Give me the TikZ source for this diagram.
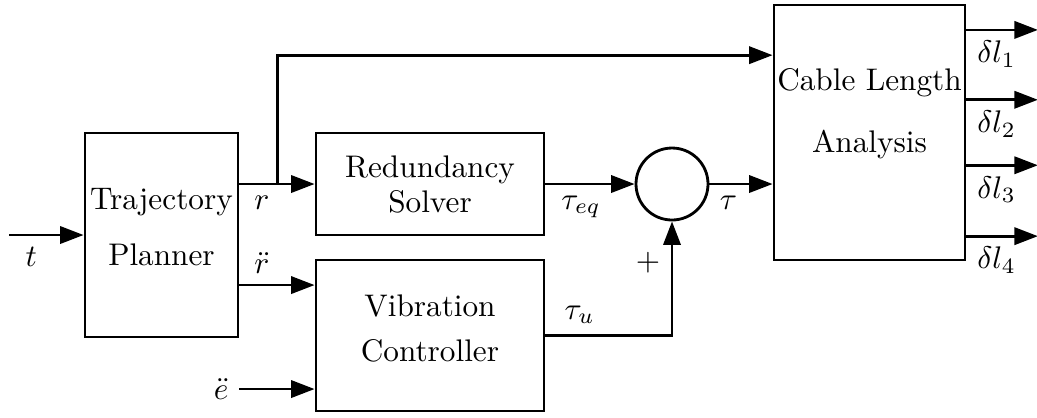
\documentclass[tikz,border=0pt]{standalone}
\usetikzlibrary{calc, arrows.meta}

\begin{document}
\begin{tikzpicture}[x=0.01125cm, y=-0.01125cm,
    block/.style={draw, line width=0.9pt, rectangle, align=center, inner sep=1pt},
    sumnode/.style={draw, line width=0.9pt, circle, inner sep=0pt},
    sig/.style={line width=0.9pt, -{Triangle[length=7.5pt,width=5.5pt]}},
    wire/.style={line width=0.9pt}]
    % One unit is one pixel of the sketch
    \def\px{0.01125cm}

  % Fix the page size
  \useasboundingbox (0,0) rectangle (1037,417);

  % Blocks
  \node[block, minimum width=153*\px, minimum height=204*\px, text depth=5pt] (traj) at (161.5,235) {Trajectory\\[6pt]Planner};
  \node[block, minimum width=228*\px, minimum height=102*\px] (red) at (430,184) {Redundancy\\[-0.8pt]Solver};
  \node[block, minimum width=228*\px, minimum height=151*\px, text depth=4.5pt] (vib) at (430,335.5) {Vibration\\[2.4pt]Controller};
  \node[sumnode, minimum size=72*\px] (sum) at (672,184) {};
  \node[block, minimum width=191*\px, minimum height=255*\px, text depth=14pt] (cable) at (869.5,132.5) {Cable Length\\[8pt]Analysis};

  % Inputs
  \coordinate (tin) at (9,235);
  \draw[sig] (tin) -- (traj.west) node[below, pos=0.3] {$t$};

  \coordinate (evib) at ($(vib.north west)!0.848!(vib.south west)$);
  \coordinate (ein) at (traj.east |- evib);
  \draw[sig] (ein) -- (evib);
  \node[left] (elabel) at (ein) {$\ddot{e}$};

  % Planner outputs
  \draw[sig] (traj.east |- red.west) -- (red.west) node[below, pos=0.3] {$r$};
  \coordinate (rvib) at ($(vib.north west)!0.172!(vib.south west)$);
  \draw[sig] (traj.east |- rvib) -- (rvib) node[above, pos=0.3] {$\ddot{r}$};

  % r also goes to the cable length block
  \coordinate (branch) at ($(traj.east |- red.west)+(38,0)$);
  \draw[sig] (branch) |- ($(cable.north west)!0.2!(cable.south west)$);

  % Summing junction
  \draw[sig] (red.east) -- (sum.west) node[below, pos=0.4] {$\tau_{eq}$};
  \draw[sig] (vib.east) -| (sum.south) node[above, pos=0.135] {$\tau_u$} node[left, pos=0.82] {$+$};
  \draw[sig] (sum.east) -- (cable.west |- sum) node[below, pos=0.3] {$\tau$};

  % Cable length outputs
  \foreach \i/\f in {1/0.102, 2/0.373, 3/0.627, 4/0.902} {
    \coordinate (o\i) at ($(cable.north east)!\f!(cable.south east)$);
    \draw[sig] (o\i) -- ++(71.5,0);
    \node[below right] (dl\i) at (o\i) {$\delta l_\i$};
  }

\end{tikzpicture}
\end{document}
